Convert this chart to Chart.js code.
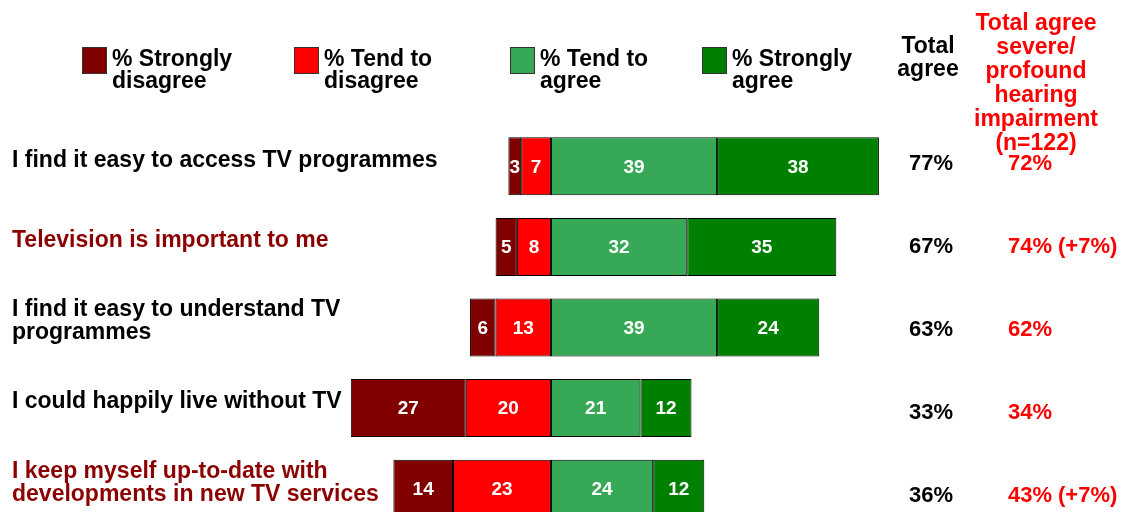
<!DOCTYPE html>
<html>
<head>
<meta charset="utf-8">
<script src="https://cdn.jsdelivr.net/npm/chart.js@4/dist/chart.umd.min.js"></script>
<style>
    html, body { margin: 0; padding: 0; background: #fff; overflow: hidden; }
    #wrap { width: 1122px; height: 540px; }
</style>
</head>
<body>
<div id="wrap"><canvas id="chart" width="1122" height="540"></canvas></div>
<script>
/* ===== Diverging stacked bars — TV attitudes ===== */

const categories = [
    ['I find it easy to access TV programmes'],
    ['Television is important to me'],
    ['I find it easy to understand TV', 'programmes'],
    ['I could happily live without TV'],
    ['I keep myself up-to-date with', 'developments in new TV services']
];
const highlightRows = [false, true, false, false, true];

const stronglyDisagree = [3, 5, 6, 27, 14];
const tendDisagree = [7, 8, 13, 20, 23];
const tendAgree = [39, 32, 39, 21, 24];
const stronglyAgree = [38, 35, 24, 12, 12];

const totalAgree = ['77%', '67%', '63%', '33%', '36%'];
const severeAgree = ['72%', '74%', '62%', '34%', '43%'];
const severeDiff = ['', '(+7%)', '', '', '(+7%)'];

const COLORS = {
    strongDis: '#800000',
    tendDis: '#FF0000',
    tendAgr: '#36A856',
    strongAgr: '#008000',
    darkRed: '#8B0000'
};

const FONT = '"Liberation Sans", Arial, sans-serif';

// Legend, column headers, row labels, value labels
const annotations = {
    id: 'annotations',
    afterDatasetsDraw(chart) {
        const ctx = chart.ctx;
        const yScale = chart.scales.y;
        ctx.save();

        // values inside the bars
        ctx.font = 'bold 19px ' + FONT;
        ctx.fillStyle = '#fff';
        ctx.textAlign = 'center';
        ctx.textBaseline = 'middle';
        chart.data.datasets.forEach((ds, di) => {
            chart.getDatasetMeta(di).data.forEach((bar, i) => {
                ctx.fillText(Math.abs(ds.data[i]), bar.x - (bar.x - bar.base) / 2, bar.y + 1);
            });
        });

        // legend
        const legend = [
            { color: COLORS.strongDis, x: 82, lines: ['% Strongly', 'disagree'] },
            { color: COLORS.tendDis, x: 294, lines: ['% Tend to', 'disagree'] },
            { color: COLORS.tendAgr, x: 510, lines: ['% Tend to', 'agree'] },
            { color: COLORS.strongAgr, x: 702, lines: ['% Strongly', 'agree'] }
        ];
        ctx.textAlign = 'left';
        ctx.font = 'bold 23px ' + FONT;
        legend.forEach(item => {
            ctx.fillStyle = item.color;
            ctx.fillRect(item.x, 47, 24, 26);
            ctx.strokeStyle = '#333';
            ctx.lineWidth = 1;
            ctx.strokeRect(item.x + 0.5, 47.5, 24, 26);
            ctx.fillStyle = '#000';
            item.lines.forEach((l, k) => ctx.fillText(l, item.x + 30, 60 + k * 22));
        });

        // column headers
        ctx.textAlign = 'center';
        ctx.fillStyle = '#000';
        ['Total', 'agree'].forEach((l, k) => ctx.fillText(l, 928, 47 + k * 23));
        ctx.fillStyle = '#FF0000';
        ['Total agree', 'severe/', 'profound', 'hearing', 'impairment', '(n=122)']
            .forEach((l, k) => ctx.fillText(l, 1036, 24 + k * 24));

        // rows
        categories.forEach((lines, i) => {
            const yc = yScale.getPixelForValue(i);

            ctx.font = 'bold 23px ' + FONT;
            ctx.textAlign = 'left';
            ctx.fillStyle = highlightRows[i] ? COLORS.darkRed : '#000';
            const y0 = yc - 6 - (lines.length - 1) * 11.5;
            lines.forEach((l, k) => ctx.fillText(l, 12, y0 + k * 23));

            // right-hand columns sit on a slightly wider pitch than the bars
            const ty = yc - 2 + i * 2.3;
            ctx.font = 'bold 22px ' + FONT;
            ctx.fillStyle = '#000';
            ctx.fillText(totalAgree[i], 909, ty);
            ctx.fillStyle = '#FF0000';
            ctx.fillText(severeAgree[i], 1008, ty);
            if (severeDiff[i]) ctx.fillText(severeDiff[i], 1058, ty);
        });

        ctx.restore();
    }
};

const barStyle = {
    borderColor: '#000',
    borderWidth: 1,
    borderSkipped: false,
    barPercentage: 0.72,
    categoryPercentage: 1.0
};

new Chart(document.getElementById('chart'), {
    type: 'bar',
    data: {
        labels: categories.map(c => c.join(' ')),
        datasets: [
            { label: '% Tend to disagree', data: tendDisagree.map(v => -v), backgroundColor: COLORS.tendDis, ...barStyle },
            { label: '% Strongly disagree', data: stronglyDisagree.map(v => -v), backgroundColor: COLORS.strongDis, ...barStyle },
            { label: '% Tend to agree', data: tendAgree, backgroundColor: COLORS.tendAgr, ...barStyle },
            { label: '% Strongly agree', data: stronglyAgree, backgroundColor: COLORS.strongAgr, ...barStyle }
        ]
    },
    options: {
        indexAxis: 'y',
        responsive: false,
        animation: false,
        layout: { padding: { left: 338, right: 209, top: 126, bottom: 11 } },
        plugins: {
            legend: { display: false },
            tooltip: { enabled: false }
        },
        scales: {
            x: { stacked: true, min: -50, max: 85, display: false },
            y: { stacked: true, display: false }
        }
    },
    plugins: [annotations]
});
</script>
</body>
</html>
